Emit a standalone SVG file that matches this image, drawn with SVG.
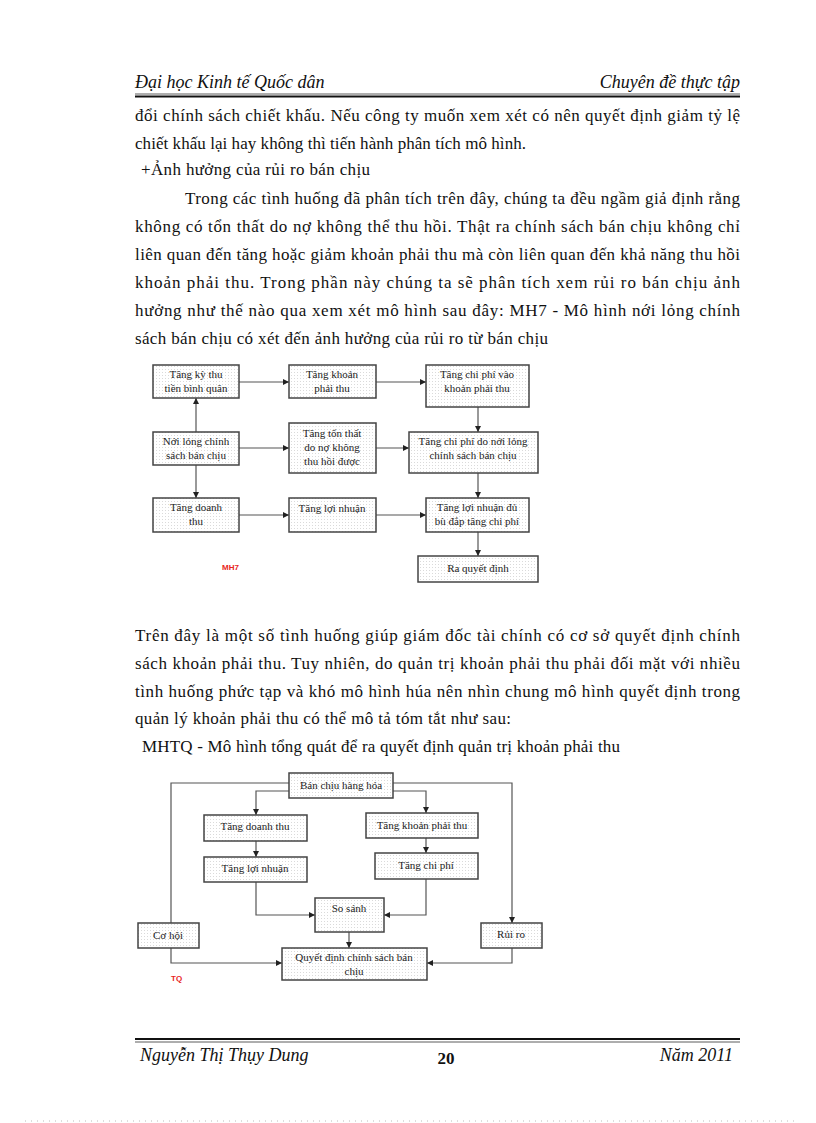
<svg xmlns="http://www.w3.org/2000/svg" width="816" height="1123" viewBox="0 0 816 1123">
<defs>
<pattern id="dots" width="3" height="3" patternUnits="userSpaceOnUse"><rect width="3" height="3" fill="#fff"/><rect width="1" height="1" fill="#dadada"/></pattern>
<marker id="ah" viewBox="0 0 10 10" refX="10" refY="5" markerWidth="6" markerHeight="6" orient="auto" markerUnits="userSpaceOnUse"><path d="M0,0 L10,5 L0,10 z" fill="#222"/></marker>
<style>
.body{font-family:"Liberation Serif","Times New Roman",serif;font-size:17px;fill:#111}
.hdr{font-family:"Liberation Serif","Times New Roman",serif;font-size:18px;font-style:italic;fill:#111}
.box{fill:url(#dots);stroke:#444;stroke-width:1.5}
.bt{font-family:"Liberation Serif","Times New Roman",serif;font-size:11px;fill:#222;text-anchor:middle}
.cn{fill:none;stroke:#555;stroke-width:1.2}
.arr{marker-end:url(#ah)}
.red{font-family:"Liberation Sans",Arial,sans-serif;font-size:8px;font-weight:bold;fill:#e8241c}
</style>
</defs>
<rect width="816" height="1123" fill="#fff"/>

<!-- header -->
<g id="header">
<text class="hdr" x="135" y="88">Đại học Kinh tế Quốc dân</text>
<text class="hdr" x="740" y="88" text-anchor="end">Chuyên đề thực tập</text>
<line x1="135" y1="94" x2="740" y2="94" stroke="#333" stroke-width="0.8"/>
<line x1="135" y1="96.5" x2="740" y2="96.5" stroke="#111" stroke-width="2"/>
</g>

<!-- paragraph 1 -->
<g id="para1">
<text class="body" x="135" y="121" textLength="605" lengthAdjust="spacing">đổi chính sách chiết khấu. Nếu công ty muốn xem xét có nên quyết định giảm tỷ lệ</text>
<text class="body" x="135" y="149" textLength="391" lengthAdjust="spacing">chiết khấu lại hay không thì tiến hành phân tích mô hình.</text>
<text class="body" x="141" y="175" textLength="229" lengthAdjust="spacing">+Ảnh hưởng của rủi ro bán chịu</text>
<text class="body" x="185" y="204" textLength="555" lengthAdjust="spacing">Trong các tình huống đã phân tích trên đây, chúng ta đều ngầm giả định rằng</text>
<text class="body" x="135" y="232" textLength="605" lengthAdjust="spacing">không có tổn thất do nợ không thể thu hồi. Thật ra chính sách bán chịu không chỉ</text>
<text class="body" x="135" y="260" textLength="605" lengthAdjust="spacing">liên quan đến tăng hoặc giảm khoản phải thu mà còn liên quan đến khả năng thu hồi</text>
<text class="body" x="135" y="288" textLength="605" lengthAdjust="spacing">khoản phải thu. Trong phần này chúng ta sẽ phân tích xem rủi ro bán chịu ảnh</text>
<text class="body" x="135" y="316" textLength="605" lengthAdjust="spacing">hưởng như thế nào qua xem xét mô hình sau đây: MH7 - Mô hình nới lỏng chính</text>
<text class="body" x="135" y="344" textLength="413" lengthAdjust="spacing">sách bán chịu có xét đến ảnh hưởng của rủi ro từ bán chịu</text>
</g>

<!-- diagram MH7 connectors -->
<g id="mh7-connectors">
<line class="cn arr" x1="239" y1="382" x2="289" y2="382"/>
<line class="cn arr" x1="376" y1="382" x2="426" y2="382"/>
<line class="cn arr" x1="239" y1="448" x2="289" y2="448"/>
<line class="cn arr" x1="376" y1="448" x2="409" y2="448"/>
<line class="cn arr" x1="239" y1="515" x2="289" y2="515"/>
<line class="cn arr" x1="376" y1="515" x2="426" y2="515"/>
<line class="cn arr" x1="196" y1="432" x2="196" y2="398"/>
<line class="cn arr" x1="196" y1="465" x2="196" y2="498"/>
<line class="cn arr" x1="478" y1="407" x2="478" y2="432"/>
<line class="cn arr" x1="478" y1="473" x2="478" y2="498"/>
<line class="cn arr" x1="478" y1="532" x2="478" y2="556"/>
</g>

<g id="n-kythu"><rect class="box" x="153" y="365" width="86" height="33"/><text class="bt" x="196" y="378">Tăng kỳ thu</text><text class="bt" x="196" y="392">tiền bình quân</text></g>
<g id="n-khoanphaithu"><rect class="box" x="289" y="365" width="87" height="33"/><text class="bt" x="332" y="378">Tăng khoản</text><text class="bt" x="332" y="392">phải thu</text></g>
<g id="n-chiphivao"><rect class="box" x="426" y="365" width="103" height="42"/><text class="bt" x="477" y="378">Tăng chi phí vào</text><text class="bt" x="477" y="392">khoản phải thu</text></g>
<g id="n-noilong"><rect class="box" x="153" y="432" width="86" height="33"/><text class="bt" x="196" y="445">Nới lỏng chính</text><text class="bt" x="196" y="459">sách bán chịu</text></g>
<g id="n-tonthat"><rect class="box" x="289" y="423" width="87" height="50"/><text class="bt" x="332" y="437">Tăng tổn thất</text><text class="bt" x="332" y="451">do nợ không</text><text class="bt" x="332" y="465">thu hồi được</text></g>
<g id="n-chiphido"><rect class="box" x="409" y="432" width="129" height="41"/><text class="bt" x="473" y="445">Tăng chi phí do nới lỏng</text><text class="bt" x="473" y="459">chính sách bán chịu</text></g>
<g id="n-doanhthu"><rect class="box" x="153" y="498" width="86" height="34"/><text class="bt" x="196" y="511">Tăng doanh</text><text class="bt" x="196" y="525">thu</text></g>
<g id="n-loinhuan"><rect class="box" x="289" y="498" width="87" height="34"/><text class="bt" x="332" y="512">Tăng lợi nhuận</text></g>
<g id="n-dubu"><rect class="box" x="426" y="498" width="103" height="34"/><text class="bt" x="477" y="511">Tăng lợi nhuận đủ</text><text class="bt" x="477" y="525">bù đắp tăng chi phí</text></g>
<g id="n-raquyetdinh"><rect class="box" x="418" y="556" width="120" height="26"/><text class="bt" x="478" y="572">Ra quyết định</text></g>
<text class="red" x="222" y="570">MH7</text>

<!-- paragraph 2 -->
<g id="para2">
<text class="body" x="135" y="641" textLength="605" lengthAdjust="spacing">Trên đây là một số tình huống giúp giám đốc tài chính có cơ sở quyết định chính</text>
<text class="body" x="135" y="669" textLength="605" lengthAdjust="spacing">sách khoản phải thu. Tuy nhiên, do quản trị khoản phải thu phải đối mặt với nhiều</text>
<text class="body" x="135" y="697" textLength="605" lengthAdjust="spacing">tình huống phức tạp và khó mô hình húa nên nhìn chung mô hình quyết định trong</text>
<text class="body" x="135" y="724" textLength="376" lengthAdjust="spacing">quản lý khoản phải thu có thể mô tả tóm tắt như sau:</text>
<text class="body" x="142" y="752" textLength="478" lengthAdjust="spacing">MHTQ - Mô hình tổng quát để ra quyết định quản trị khoản phải thu</text>
</g>

<!-- diagram TQ connectors -->
<g id="tq-connectors">
<polyline class="cn" points="289,783 171,783 171,923"/>
<polyline class="cn arr" points="393,783 512,783 512,923"/>
<polyline class="cn arr" points="289,791 256,791 256,815"/>
<polyline class="cn arr" points="393,791 426,791 426,813"/>
<line class="cn arr" x1="256" y1="841" x2="256" y2="857"/>
<line class="cn arr" x1="426" y1="838" x2="426" y2="853"/>
<polyline class="cn arr" points="256,882 256,915 315,915"/>
<polyline class="cn arr" points="426,879 426,915 384,915"/>
<line class="cn arr" x1="349" y1="932" x2="349" y2="948"/>
<polyline class="cn arr" points="171,948 171,963 282,963"/>
<polyline class="cn arr" points="512,948 512,963 427,963"/>
</g>

<g id="t-banchiu"><rect class="box" x="289" y="773" width="104" height="25"/><text class="bt" x="341" y="789">Bán chịu hàng hóa</text></g>
<g id="t-doanhthu"><rect class="box" x="204" y="815" width="103" height="26"/><text class="bt" x="255" y="830">Tăng doanh thu</text></g>
<g id="t-khoanphaithu"><rect class="box" x="366" y="813" width="112" height="25"/><text class="bt" x="422" y="829">Tăng khoản phải thu</text></g>
<g id="t-loinhuan"><rect class="box" x="204" y="857" width="103" height="25"/><text class="bt" x="255" y="872">Tăng lợi nhuận</text></g>
<g id="t-chiphi"><rect class="box" x="375" y="853" width="103" height="26"/><text class="bt" x="426" y="869">Tăng chi phí</text></g>
<g id="t-sosanh"><rect class="box" x="315" y="898" width="69" height="34"/><text class="bt" x="349" y="912">So sánh</text></g>
<g id="t-cohoi"><rect class="box" x="138" y="923" width="61" height="25"/><text class="bt" x="168" y="939">Cơ hội</text></g>
<g id="t-ruiro"><rect class="box" x="481" y="923" width="61" height="25"/><text class="bt" x="511" y="938">Rủi ro</text></g>
<g id="t-quyetdinh"><rect class="box" x="282" y="948" width="145" height="32"/><text class="bt" x="354" y="961">Quyết định chính sách bán</text><text class="bt" x="354" y="975">chịu</text></g>
<text class="red" x="171" y="981">TQ</text>

<!-- footer -->
<g id="footer">
<line x1="135" y1="1039" x2="740" y2="1039" stroke="#111" stroke-width="2"/>
<line x1="135" y1="1042" x2="740" y2="1042" stroke="#333" stroke-width="0.8"/>
<text class="hdr" x="140" y="1061">Nguyễn Thị Thụy Dung</text>
<text x="446" y="1064" text-anchor="middle" style="font-family:'Liberation Serif','Times New Roman',serif;font-size:17px;font-weight:bold;fill:#111">20</text>
<text class="hdr" x="733" y="1061" text-anchor="end">Năm 2011</text>
</g>
<line x1="25" y1="1121" x2="795" y2="1121" stroke="#bbb" stroke-width="1" stroke-dasharray="1,5"/>
</svg>
